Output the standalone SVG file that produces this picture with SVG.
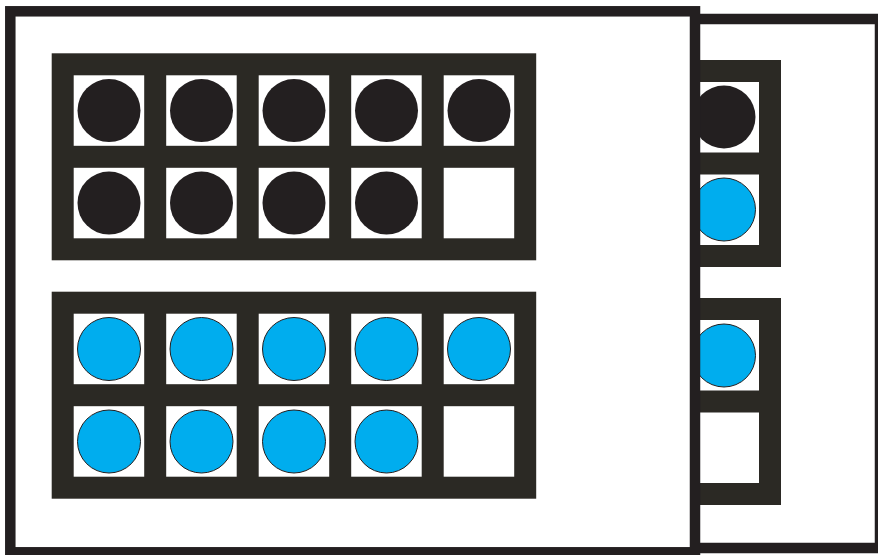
<svg xmlns="http://www.w3.org/2000/svg" width="878" height="555" viewBox="0 0 878 555">
<style>
.card{fill:#fff;stroke:#231f20;stroke-width:10.5}
.frame{fill:#2b2924}
.cell{fill:#fff}
.blk{fill:#231f20}
.blu{fill:#00adee;stroke:#231f20;stroke-width:1}
</style>
<defs>
<g id="tf">
<rect class="frame" x="0" y="0" width="484.5" height="207"/>
<rect class="cell" x="22" y="22" width="70.5" height="70.5"/>
<rect class="cell" x="114.5" y="22" width="70.5" height="70.5"/>
<rect class="cell" x="207" y="22" width="70.5" height="70.5"/>
<rect class="cell" x="299.5" y="22" width="70.5" height="70.5"/>
<rect class="cell" x="392" y="22" width="70.5" height="70.5"/>
<rect class="cell" x="22" y="114.5" width="70.5" height="70.5"/>
<rect class="cell" x="114.5" y="114.5" width="70.5" height="70.5"/>
<rect class="cell" x="207" y="114.5" width="70.5" height="70.5"/>
<rect class="cell" x="299.5" y="114.5" width="70.5" height="70.5"/>
<rect class="cell" x="392" y="114.5" width="70.5" height="70.5"/>
</g>
</defs>
<g id="back-card">
<rect class="card" x="650" y="19" width="230" height="529"/>
<use href="#tf" x="296.5" y="60"/>
<use href="#tf" x="296.5" y="298"/>
<circle class="blk" cx="724" cy="117" r="31.5"/>
<circle class="blu" cx="724" cy="209.5" r="31.5"/>
<circle class="blu" cx="724" cy="355.5" r="31.5"/>
</g>
<g id="front-card">
<rect class="card" x="10.3" y="11.3" width="684.7" height="541"/>
</g>
<g id="frame-black">
<use href="#tf" x="51.7" y="53.3"/>
<circle class="blk" cx="109" cy="110.6" r="31.5"/>
<circle class="blk" cx="201.5" cy="110.6" r="31.5"/>
<circle class="blk" cx="294" cy="110.6" r="31.5"/>
<circle class="blk" cx="386.5" cy="110.6" r="31.5"/>
<circle class="blk" cx="479" cy="110.6" r="31.5"/>
<circle class="blk" cx="109" cy="203.1" r="31.5"/>
<circle class="blk" cx="201.5" cy="203.1" r="31.5"/>
<circle class="blk" cx="294" cy="203.1" r="31.5"/>
<circle class="blk" cx="386.5" cy="203.1" r="31.5"/>
</g>
<g id="frame-blue">
<use href="#tf" x="51.7" y="291.7"/>
<circle class="blu" cx="109" cy="349" r="31.5"/>
<circle class="blu" cx="201.5" cy="349" r="31.5"/>
<circle class="blu" cx="294" cy="349" r="31.5"/>
<circle class="blu" cx="386.5" cy="349" r="31.5"/>
<circle class="blu" cx="479" cy="349" r="31.5"/>
<circle class="blu" cx="109" cy="441.5" r="31.5"/>
<circle class="blu" cx="201.5" cy="441.5" r="31.5"/>
<circle class="blu" cx="294" cy="441.5" r="31.5"/>
<circle class="blu" cx="386.5" cy="441.5" r="31.5"/>
</g>
<g id="connectors"/>
</svg>
